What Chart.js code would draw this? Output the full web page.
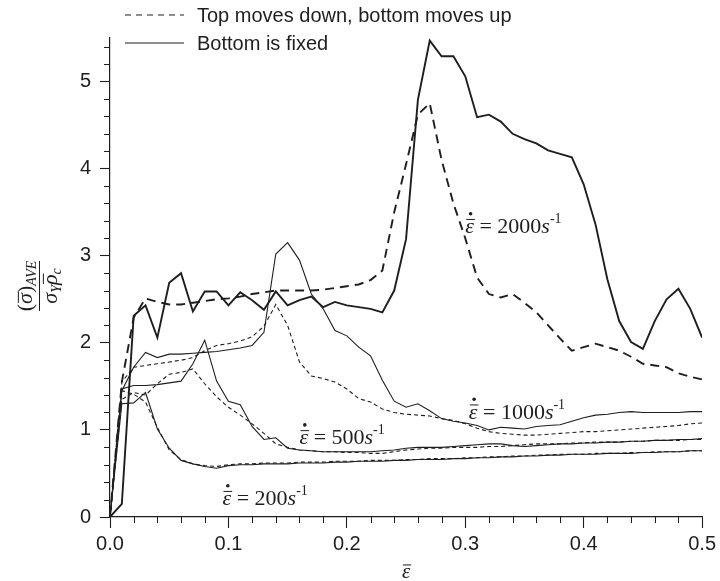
<!DOCTYPE html>
<html>
<head>
<meta charset="utf-8">
<script src="https://cdn.jsdelivr.net/npm/chart.js@4.4.1/dist/chart.umd.min.js"></script>
<style>
  html, body { margin: 0; padding: 0; background: #fff; }
  #wrap { width: 720px; height: 581px; }
</style>
</head>
<body>
<div id="wrap"><canvas id="myChart"></canvas></div>
<script>
// normalised mean strain
const strain = [0, 0.01, 0.02, 0.03, 0.04, 0.05, 0.06, 0.07, 0.08, 0.09,
  0.10, 0.11, 0.12, 0.13, 0.14, 0.15, 0.16, 0.17, 0.18, 0.19,
  0.20, 0.21, 0.22, 0.23, 0.24, 0.25, 0.26, 0.27, 0.28, 0.29,
  0.30, 0.31, 0.32, 0.33, 0.34, 0.35, 0.36, 0.37, 0.38, 0.39,
  0.40, 0.41, 0.42, 0.43, 0.44, 0.45, 0.46, 0.47, 0.48, 0.49,
  0.50];

// bottom is fixed (solid)
const fixed2000 = [0, 0.15, 2.31, 2.43, 2.06, 2.69, 2.80, 2.36, 2.59, 2.59,
  2.43, 2.58, 2.49, 2.38, 2.59, 2.43, 2.49, 2.53, 2.41, 2.47,
  2.43, 2.41, 2.39, 2.35, 2.60, 3.19, 4.79, 5.47, 5.29, 5.29,
  5.06, 4.59, 4.62, 4.54, 4.40, 4.34, 4.29, 4.21, 4.17, 4.13,
  3.82, 3.36, 2.73, 2.25, 2.01, 1.93, 2.25, 2.50, 2.62, 2.39,
  2.06];
const fixed1000 = [0, 1.45, 1.72, 1.89, 1.83, 1.87, 1.87, 1.88, 1.89, 1.90,
  1.92, 1.94, 1.97, 2.12, 3.02, 3.15, 2.95, 2.56, 2.39, 2.14,
  2.08, 1.95, 1.85, 1.57, 1.33, 1.26, 1.30, 1.22, 1.13, 1.10,
  1.08, 1.05, 1.00, 1.03, 1.02, 1.01, 1.04, 1.05, 1.06, 1.10,
  1.14, 1.17, 1.18, 1.20, 1.21, 1.20, 1.20, 1.20, 1.20, 1.21,
  1.21];
const fixed500 = [0, 1.47, 1.51, 1.51, 1.52, 1.54, 1.56, 1.76, 2.03, 1.56,
  1.33, 1.29, 1.04, 0.89, 0.91, 0.79, 0.77, 0.76, 0.75, 0.75,
  0.75, 0.75, 0.75, 0.76, 0.77, 0.79, 0.80, 0.80, 0.80, 0.81,
  0.82, 0.83, 0.84, 0.84, 0.82, 0.81, 0.82, 0.83, 0.84, 0.84,
  0.85, 0.85, 0.86, 0.86, 0.87, 0.87, 0.88, 0.88, 0.89, 0.89,
  0.90];
const fixed200 = [0, 1.30, 1.31, 1.43, 1.01, 0.79, 0.65, 0.61, 0.58, 0.56,
  0.59, 0.60, 0.60, 0.61, 0.61, 0.61, 0.62, 0.62, 0.62, 0.63,
  0.63, 0.64, 0.64, 0.64, 0.65, 0.65, 0.66, 0.66, 0.66, 0.67,
  0.67, 0.68, 0.68, 0.69, 0.69, 0.70, 0.70, 0.71, 0.71, 0.72,
  0.72, 0.72, 0.73, 0.73, 0.73, 0.74, 0.74, 0.75, 0.75, 0.76,
  0.76];

// top moves down, bottom moves up (dashed)
const moving2000 = [0, 1.55, 2.29, 2.51, 2.47, 2.44, 2.44, 2.46, 2.48, 2.50,
  2.51, 2.53, 2.56, 2.58, 2.60, 2.60, 2.60, 2.60, 2.61, 2.63,
  2.65, 2.67, 2.72, 2.83, 3.50, 4.05, 4.62, 4.75, 4.10, 3.60,
  3.20, 2.75, 2.56, 2.52, 2.56, 2.46, 2.35, 2.20, 2.05, 1.91,
  1.95, 1.99, 1.95, 1.91, 1.84, 1.76, 1.74, 1.72, 1.65, 1.61,
  1.58];
const moving1000 = [0, 1.55, 1.72, 1.74, 1.76, 1.78, 1.80, 1.83, 1.91, 1.97,
  1.99, 2.02, 2.07, 2.19, 2.44, 2.20, 1.78, 1.62, 1.59, 1.55,
  1.47, 1.36, 1.32, 1.24, 1.20, 1.18, 1.17, 1.16, 1.13, 1.11,
  1.07, 1.02, 0.98, 0.96, 0.95, 0.94, 0.94, 0.95, 0.96, 0.97,
  0.98, 0.98, 0.99, 1.00, 1.01, 1.02, 1.03, 1.04, 1.05, 1.07,
  1.08];
const moving500 = [0, 1.35, 1.43, 1.40, 1.53, 1.64, 1.66, 1.70, 1.53, 1.38,
  1.26, 1.17, 1.07, 0.96, 0.84, 0.80, 0.77, 0.76, 0.75, 0.75,
  0.74, 0.74, 0.73, 0.73, 0.75, 0.77, 0.78, 0.79, 0.79, 0.80,
  0.80, 0.80, 0.81, 0.81, 0.82, 0.83, 0.84, 0.84, 0.84, 0.85,
  0.85, 0.86, 0.86, 0.86, 0.87, 0.87, 0.88, 0.88, 0.88, 0.89,
  0.89];
const moving200 = [0, 1.45, 1.41, 1.32, 1.03, 0.77, 0.66, 0.61, 0.59, 0.58,
  0.60, 0.61, 0.61, 0.62, 0.62, 0.62, 0.63, 0.63, 0.63, 0.64,
  0.64, 0.64, 0.65, 0.65, 0.65, 0.66, 0.66, 0.67, 0.67, 0.67,
  0.68, 0.68, 0.69, 0.69, 0.70, 0.70, 0.71, 0.71, 0.72, 0.72,
  0.72, 0.73, 0.73, 0.73, 0.74, 0.74, 0.75, 0.75, 0.75, 0.76,
  0.76];

const rates = ['2000', '1000', '500', '200'];
const legendNames = ['Top moves down, bottom moves up', 'Bottom is fixed'];
const xTicks = [0, 0.1, 0.2, 0.3, 0.4, 0.5];
const yTicks = [0, 1, 2, 3, 4, 5];

// where each strain-rate note sits, in axis units
const rateNoteAt = [[0.30, 3.26], [0.303, 1.13], [0.16, 0.835], [0.095, 0.137]];

const INK = '#1e1e1e';
const SERIF = '"Liberation Serif", "Times New Roman", serif';
const SANS = '"Liberation Sans", Arial, Helvetica, sans-serif';

function pts(ys) {
  return strain.map((x, i) => ({ x: x, y: ys[i] }));
}

function line(ys, thick, dashed) {
  return {
    data: pts(ys),
    borderColor: INK,
    borderWidth: thick ? 1.9 : 1.1,
    borderDash: dashed ? (thick ? [9, 6] : [4, 3]) : [],
    pointRadius: 0,
    tension: 0,
    fill: false
  };
}

// draws a run of text pieces: {t, it, sz, dy, bar, dot}
function rich(ctx, parts, x, y, center) {
  let total = 0;
  for (let p of parts) {
    ctx.font = (p.it ? 'italic ' : '') + p.sz + 'px ' + SERIF;
    p.w = ctx.measureText(p.t).width;
    total += p.w;
  }
  let cx = center ? x - total / 2 : x;
  ctx.textBaseline = 'alphabetic';
  ctx.textAlign = 'left';
  for (let p of parts) {
    ctx.font = (p.it ? 'italic ' : '') + p.sz + 'px ' + SERIF;
    let by = y + (p.dy || 0);
    ctx.fillText(p.t, cx, by);
    if (p.bar) {
      ctx.beginPath();
      ctx.lineWidth = 1;
      ctx.moveTo(cx + 1, by - p.sz * 0.62);
      ctx.lineTo(cx + p.w + 1, by - p.sz * 0.62);
      ctx.stroke();
    }
    if (p.dot) {
      ctx.beginPath();
      ctx.arc(cx + p.w / 2 + 1, by - p.sz * 0.88, 1.8, 0, Math.PI * 2);
      ctx.fill();
    }
    cx += p.w;
  }
}

const decor = {
  id: 'decor',
  afterDraw(chart) {
    const ctx = chart.ctx;
    const xs = chart.scales.x, ys = chart.scales.y;
    const area = chart.chartArea;
    ctx.save();
    ctx.strokeStyle = INK;
    ctx.fillStyle = INK;

    // minor ticks
    ctx.lineWidth = 1;
    ctx.beginPath();
    for (let k = 1; k < 25; k++) {
      if (k % 5 === 0) continue;
      let px = Math.round(xs.getPixelForValue(k * 0.02)) + 0.5;
      ctx.moveTo(px, area.bottom);
      ctx.lineTo(px, area.bottom + 6);
    }
    for (let k = 1; k < 28; k++) {
      if (k % 5 === 0) continue;
      let py = Math.round(ys.getPixelForValue(k * 0.2)) + 0.5;
      ctx.moveTo(area.left - 6, py);
      ctx.lineTo(area.left, py);
    }
    ctx.stroke();

    // legend
    ctx.font = '20px ' + SANS;
    ctx.textBaseline = 'middle';
    ctx.lineWidth = 1.1;
    ctx.beginPath();
    ctx.setLineDash([6, 5]);
    ctx.moveTo(125, 15); ctx.lineTo(184, 15);
    ctx.stroke();
    ctx.setLineDash([]);
    ctx.beginPath();
    ctx.moveTo(125, 43); ctx.lineTo(184, 43);
    ctx.stroke();
    ctx.fillText(legendNames[0], 197, 16);
    ctx.fillText(legendNames[1], 197, 44);

    // strain-rate notes
    rates.forEach((r, i) => {
      let px = xs.getPixelForValue(rateNoteAt[i][0]);
      let py = ys.getPixelForValue(rateNoteAt[i][1]);
      rich(ctx, [
        { t: 'ε', it: true, sz: 22, bar: true, dot: true },
        { t: ' = ' + r, sz: 22 },
        { t: 's', it: true, sz: 22 },
        { t: '-1', sz: 14, dy: -10 }
      ], px, py, false);
    });

    // x axis title
    rich(ctx, [{ t: 'ε', it: true, sz: 21, bar: true }], (area.left + area.right) / 2, 578, true);

    // y axis title, a fraction turned on its side
    ctx.translate(39, 286);
    ctx.rotate(-Math.PI / 2);
    rich(ctx, [
      { t: '(', sz: 22 },
      { t: 'σ', it: true, sz: 22, bar: true },
      { t: ')', sz: 22 },
      { t: 'AVE', it: true, sz: 14, dy: 4 }
    ], 0, -7, true);
    ctx.lineWidth = 1;
    ctx.beginPath();
    ctx.moveTo(-25, 0.5); ctx.lineTo(25, 0.5);
    ctx.stroke();
    rich(ctx, [
      { t: 'σ', it: true, sz: 22 },
      { t: 'Y', it: true, sz: 14, dy: 4 },
      { t: 'ρ', it: true, sz: 22, bar: true },
      { t: 'c', it: true, sz: 14, dy: 4 }
    ], 0, 18, true);
    ctx.restore();
  }
};

const ctx = document.getElementById('myChart').getContext('2d');
const myChart = new Chart(ctx, {
  type: 'line',
  data: {
    datasets: [
      line(fixed2000, true, false),
      line(moving2000, true, true),
      line(fixed1000, false, false),
      line(moving1000, false, true),
      line(fixed500, false, false),
      line(moving500, false, true),
      line(fixed200, false, false),
      line(moving200, false, true)
    ]
  },
  options: {
    responsive: true,
    maintainAspectRatio: false,
    animation: false,
    layout: { padding: { left: 0, top: 38, right: 16, bottom: 0 } },
    plugins: { legend: { display: false }, tooltip: { enabled: false } },
    scales: {
      x: {
        type: 'linear',
        min: 0,
        max: 0.5,
        afterFit(scale) { scale.height = 64; },
        afterBuildTicks(scale) { scale.ticks = xTicks.map(v => ({ value: v })); },
        border: { display: true, color: INK, width: 1.2 },
        grid: { display: true, drawOnChartArea: false, drawTicks: true, tickLength: 11, color: INK, tickWidth: 1.1 },
        ticks: {
          color: INK,
          padding: 4,
          maxRotation: 0,
          font: { family: SANS, size: 20 },
          callback: v => v.toFixed(1)
        }
      },
      y: {
        type: 'linear',
        min: 0,
        max: 5.5,
        afterFit(scale) { scale.width = 110; },
        afterBuildTicks(scale) { scale.ticks = yTicks.map(v => ({ value: v })); },
        border: { display: true, color: INK, width: 1.2 },
        grid: { display: true, drawOnChartArea: false, drawTicks: true, tickLength: 10, color: INK, tickWidth: 1.1 },
        ticks: {
          color: INK,
          padding: 9,
          font: { family: SANS, size: 20 },
          callback: v => String(v)
        }
      }
    }
  },
  plugins: [decor]
});
</script>
</body>
</html>
